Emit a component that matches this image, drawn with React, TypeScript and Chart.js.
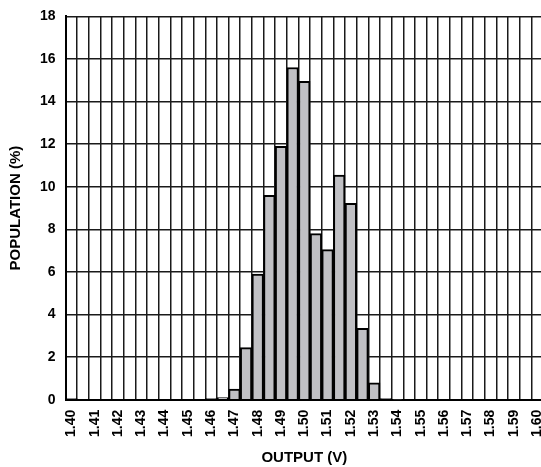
import React, { useEffect, useRef } from "react";
import { Chart, registerables } from "chart.js";

Chart.register(...registerables);

// Histogram bins (V), 5 mV wide, centred on these values
const binCenters = [
  "1.400", "1.405", "1.410", "1.415", "1.420", "1.425", "1.430", "1.435",
  "1.440", "1.445", "1.450", "1.455", "1.460", "1.465", "1.470", "1.475",
  "1.480", "1.485", "1.490", "1.495", "1.500", "1.505", "1.510", "1.515",
  "1.520", "1.525", "1.530", "1.535", "1.540", "1.545", "1.550", "1.555",
  "1.560", "1.565", "1.570", "1.575", "1.580", "1.585", "1.590", "1.595",
  "1.600",
];

// Share of units falling in each bin (%)
const population = [
  0.05, 0, 0, 0, 0, 0, 0, 0,
  0, 0, 0, 0, 0.05, 0.1, 0.5, 2.45,
  5.9, 9.6, 11.9, 15.6, 14.95, 7.8, 7.05, 10.55,
  9.22, 3.35, 0.8, 0.05, 0.03, 0, 0, 0,
  0, 0, 0, 0, 0, 0, 0, 0,
  0,
];

// Labels printed under every other bin
const xTickLabels = [
  "1.40", "1.41", "1.42", "1.43", "1.44", "1.45", "1.46", "1.47", "1.48",
  "1.49", "1.50", "1.51", "1.52", "1.53", "1.54", "1.55", "1.56", "1.57",
  "1.58", "1.59", "1.60",
];

const yMin = 0;
const yMax = 18;
const yStep = 2;

const FONT = "'Liberation Sans', Arial, sans-serif";

export default function App() {
  const canvasRef = useRef<HTMLCanvasElement | null>(null);

  useEffect(() => {
    const canvas = canvasRef.current;
    if (!canvas) return;
    const chart = new Chart(canvas, {
      type: "bar",
      data: {
        labels: binCenters,
        datasets: [
          {
            data: population,
            backgroundColor: "#c0c0c4",
            borderColor: "#000000",
            borderWidth: 2,
            barPercentage: 1,
            categoryPercentage: 1,
          },
        ],
      },
      options: {
        responsive: false,
        animation: false,
        layout: { padding: { top: 6, left: 7, right: 0, bottom: 2 } },
        plugins: {
          legend: { display: false },
          tooltip: { enabled: false },
        },
        scales: {
          x: {
            type: "category",
            offset: true,
            grid: {
              offset: true,
              color: "#1a1a1a",
              lineWidth: 1.5,
              drawTicks: false,
            },
            border: { color: "#000000", width: 2 },
            ticks: {
              autoSkip: false,
              maxRotation: 90,
              minRotation: 90,
              padding: 10,
              color: "#000000",
              font: { family: FONT, size: 14, weight: "bold" },
              callback: (_v: any, i: number) =>
                i % 2 === 0 ? xTickLabels[i / 2] : "",
            },
            title: {
              display: true,
              text: "OUTPUT (V)",
              color: "#000000",
              font: { family: FONT, size: 15, weight: "bold" },
              padding: { top: 2, bottom: 0 },
            },
          },
          y: {
            min: yMin,
            max: yMax,
            grid: {
              color: "#1a1a1a",
              lineWidth: 1.5,
              drawTicks: false,
            },
            border: { color: "#000000", width: 2 },
            ticks: {
              stepSize: yStep,
              padding: 10,
              color: "#000000",
              font: { family: FONT, size: 14, weight: "bold" },
            },
            title: {
              display: true,
              text: "POPULATION (%)",
              color: "#000000",
              font: { family: FONT, size: 15, weight: "bold" },
              padding: { top: 0, bottom: 5 },
            },
          },
        },
      },
    });
    return () => chart.destroy();
  }, []);

  return (
    <div
      style={{
        position: "absolute",
        left: 0,
        top: 0,
        width: 541,
        height: 467,
        overflow: "hidden",
        background: "#ffffff",
      }}
    >
      <canvas
        ref={canvasRef}
        width={564}
        height={471}
        style={{ display: "block", marginTop: -2 }}
      />
    </div>
  );
}
